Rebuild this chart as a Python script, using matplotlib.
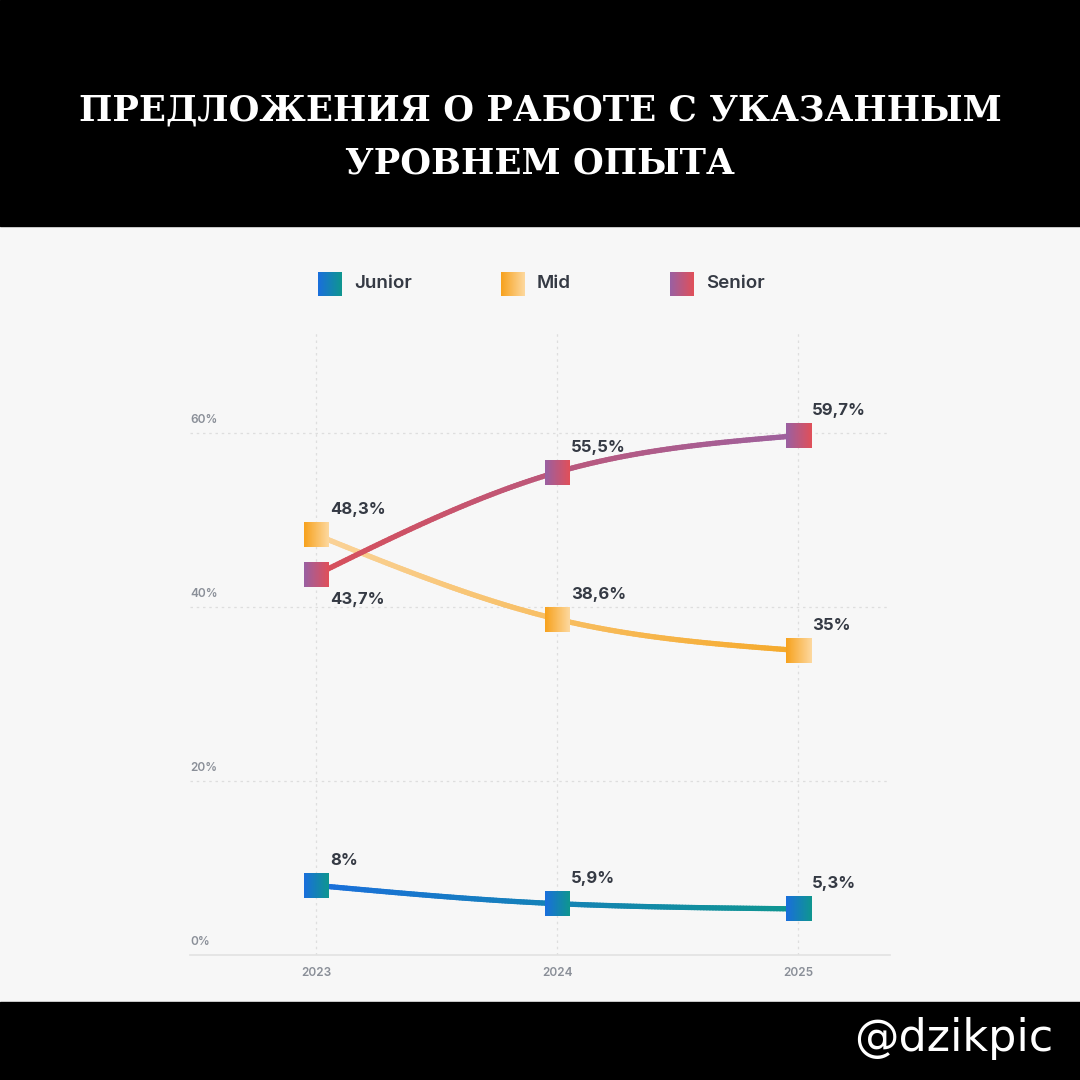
import numpy as np
import matplotlib
matplotlib.use("Agg")
import matplotlib.pyplot as plt
from matplotlib.collections import LineCollection
from matplotlib.colors import to_rgb
from matplotlib.patches import Rectangle

# data
years = [2023, 2024, 2025]
junior = [8.0, 5.9, 5.3]
mid = [48.3, 38.6, 35.0]
senior = [43.7, 55.5, 59.7]
junior_labels = ["8%", "5,9%", "5,3%"]
mid_labels = ["48,3%", "38,6%", "35%"]
senior_labels = ["43,7%", "55,5%", "59,7%"]
y_ticks = [0, 20, 40, 60]
y_tick_labels = ["0%", "20%", "40%", "60%"]
title_lines = ["ПРЕДЛОЖЕНИЯ О РАБОТЕ С УКАЗАННЫМ", "УРОВНЕМ ОПЫТА"]

W = 1080
BG = "#f7f7f7"
TXT = "#353a44"

# (line start, line end, marker left, marker right)
series = [
    ("Junior", junior, junior_labels, "#1a6fdc", "#0f9690", "#1a6fdc", "#0f9690"),
    ("Mid", mid, mid_labels, "#fad39a", "#f5a92a", "#f7a21e", "#fdd89e"),
    ("Senior", senior, senior_labels, "#d84f5a", "#9d619e", "#9a60a2", "#e0505a"),
]


def monotone(x, y, n=80):
    # monotone cubic (d3 curveMonotoneX style) for drawing smooth lines
    x = np.asarray(x, float)
    y = np.asarray(y, float)
    h = np.diff(x)
    s = np.diff(y) / h
    t = np.zeros_like(y)
    for i in range(1, len(x) - 1):
        p = (s[i - 1] * h[i] + s[i] * h[i - 1]) / (h[i - 1] + h[i])
        t[i] = (np.sign(s[i - 1]) + np.sign(s[i])) * min(abs(s[i - 1]), abs(s[i]), 0.5 * abs(p))
    t[0] = (3 * s[0] - t[1]) / 2
    t[-1] = (3 * s[-1] - t[-2]) / 2
    xs, ys = [], []
    for i in range(len(x) - 1):
        u = np.linspace(0, 1, n)
        h00 = 2 * u**3 - 3 * u**2 + 1
        h10 = u**3 - 2 * u**2 + u
        h01 = -2 * u**3 + 3 * u**2
        h11 = u**3 - u**2
        xs.append(x[i] + u * h[i])
        ys.append(h00 * y[i] + h10 * h[i] * t[i] + h01 * y[i + 1] + h11 * h[i] * t[i + 1])
    return np.concatenate(xs), np.concatenate(ys)


def grad(c0, c1, n=32):
    a, b = np.array(to_rgb(c0)), np.array(to_rgb(c1))
    f = np.linspace(0, 1, n)[:, None]
    return (a * (1 - f) + b * f)[None, :, :]


fig = plt.figure(figsize=(10.8, 10.8), dpi=100)
fig.patch.set_facecolor(BG)
fig.add_artist(Rectangle((0, 1 - 226 / W), 1, 226 / W, transform=fig.transFigure,
                         color="black", zorder=0))
fig.add_artist(Rectangle((0, 0), 1, 78 / W, transform=fig.transFigure,
                         color="black", zorder=0))

for ty, line in zip([110, 163], title_lines):
    fig.text(0.5, 1 - ty / W, line, ha="center", va="center", color="white",
             fontsize=25.5, fontweight="bold", family="DejaVu Serif")
fig.text(1053 / W, 1 - 1038 / W, "@dzikpic", ha="right", va="center",
         color="white", fontsize=32, family="DejaVu Sans")

# axes
ax_l, ax_b, ax_w, ax_h = 190, 125, 700, 626.4
ax = fig.add_axes([ax_l / W, ax_b / W, ax_w / W, ax_h / W])
ax.set_facecolor("none")
xmin, xmax, ymin, ymax = 2022.477, 2025.38, 0, 72
ax.set_xlim(xmin, xmax)
ax.set_ylim(ymin, ymax)
for sp in ["top", "right", "left"]:
    ax.spines[sp].set_visible(False)
ax.spines["bottom"].set_color("#e2e2e2")
ax.spines["bottom"].set_linewidth(1.2)

for v in y_ticks[1:]:
    ax.axhline(v, color="#dedede", lw=0.9, ls=(0, (2, 3)), zorder=1)
for yr in years:
    ax.axvline(yr, ymax=71.5 / ymax, color="#dedede", lw=0.9, ls=(0, (2, 3)), zorder=1)

ax.set_yticks([])
ax.set_xticks(years)
ax.set_xticklabels([str(y) for y in years], color="#8a8f98", fontsize=8.5,
                   fontweight="semibold", family="Inter")
ax.tick_params(axis="x", length=0, pad=9)
for v, lab in zip(y_ticks, y_tick_labels):
    ax.annotate(lab, (0, v), xycoords=ax.get_yaxis_transform(), xytext=(0, 5),
                textcoords="offset points", ha="left", va="bottom",
                color="#8a8f98", fontsize=8.5, fontweight="semibold", family="Inter")

px_x = ax_w / (xmax - xmin)
px_y = ax_h / (ymax - ymin)
half = 12.5

for name, vals, labs, lc0, lc1, mc0, mc1 in series:
    xs, ys = monotone(years, vals)
    pts = np.column_stack([xs, ys])
    segs = np.stack([pts[:-1], pts[1:]], axis=1)
    f = (xs[:-1] - years[0]) / (years[-1] - years[0])
    a, b = np.array(to_rgb(lc0)), np.array(to_rgb(lc1))
    cols = a * (1 - f[:, None]) + b * f[:, None]
    lc = LineCollection(segs, colors=cols, linewidths=3.8, capstyle="round", zorder=3)
    ax.add_collection(lc)
    for i, (x, y) in enumerate(zip(years, vals)):
        hx, hy = half / px_x, half / px_y
        ax.imshow(grad(mc0, mc1), extent=[x - hx, x + hx, y - hy, y + hy],
                  aspect="auto", interpolation="bilinear", zorder=5)
        off = (10, 18)
        if name == "Senior" and i == 0:
            off = (10, -18)
        ax.annotate(labs[i], (x, y), xytext=off, textcoords="offset points",
                    ha="left", va="center", color=TXT, fontsize=12,
                    fontweight="bold", family="Inter", zorder=6)

ax.set_xlim(xmin, xmax)
ax.set_ylim(ymin, ymax)

# legend
leg = [("Junior", 318, "#1a6fdc", "#0f9690"), ("Mid", 501, "#f7a21e", "#fdd89e"),
       ("Senior", 670, "#9a60a2", "#e0505a")]
for name, lx, c0, c1 in leg:
    la = fig.add_axes([lx / W, (W - 296) / W, 24 / W, 24 / W])
    la.imshow(grad(c0, c1), aspect="auto", interpolation="bilinear")
    la.axis("off")
    fig.text((lx + 36) / W, 1 - 284 / W, name, ha="left", va="center",
             color=TXT, fontsize=13.5, fontweight="semibold", family="Inter")

fig.savefig("out.png", dpi=100, facecolor=fig.get_facecolor())
